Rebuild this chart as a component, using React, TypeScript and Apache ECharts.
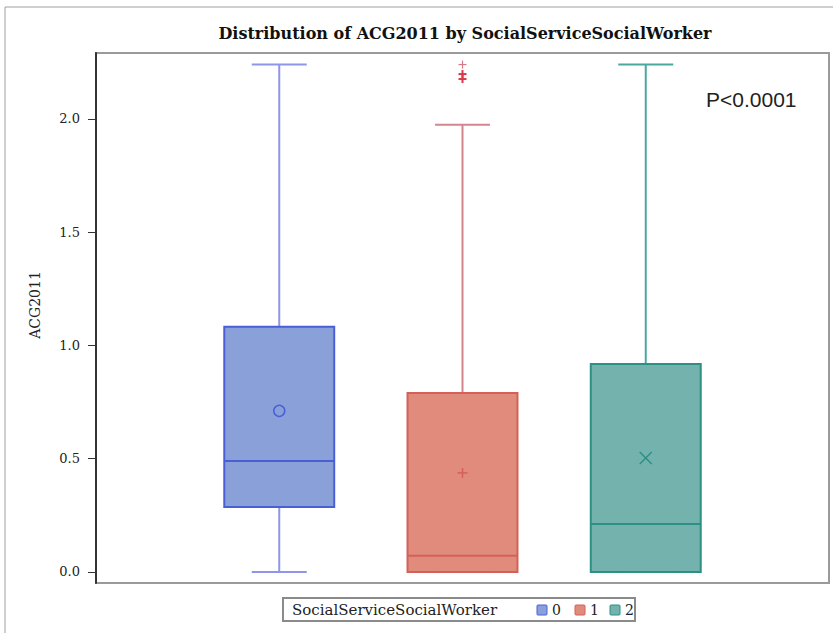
import React, { useEffect, useRef } from "react";
import * as echarts from "echarts";

// ---- data ----
const categories = ["0", "1", "2"];
const whiskerLow = [0, 0, 0];
const q1 = [0.287, 0, 0];
const median = [0.49, 0.071, 0.212];
const q3 = [1.082, 0.79, 0.918];
const whiskerHigh = [2.24, 1.974, 2.24];
const means = [0.711, 0.437, 0.503];
const outlierCategory = [1, 1, 1];
const outlierValues = [2.24, 2.198, 2.176];
const yTicks = [0, 0.5, 1, 1.5, 2];

const titleText = "Distribution of ACG2011 by SocialServiceSocialWorker";
const yName = "ACG2011";
const legendTitle = "SocialServiceSocialWorker";
const pText = "P<0.0001";

// ---- styles ----
const fills = ["#8aa0d8", "#e08b7b", "#73b2ad"];
const edges = ["#4a5fd6", "#d4605a", "#2c9084"];
const whiskers = ["#8f95ea", "#d4868e", "#4aa99e"];
const outlierColor = "#d8394b";
const meanSymbols = ["circle", "plus", "cross"];
const serif = "DejaVu Serif";

export default function App() {
  const ref = useRef<HTMLDivElement>(null);

  useEffect(() => {
    document.body.style.margin = "0";
    const chart = echarts.init(ref.current!, null, { renderer: "svg" });

    const boxData = categories.map((c, i) => [
      i + 1,
      whiskerLow[i],
      q1[i],
      median[i],
      q3[i],
      whiskerHigh[i],
      means[i],
      i,
    ]);
    const outlierData = outlierValues.map((v, i) => [outlierCategory[i] + 1, v, outlierCategory[i]]);

    const renderBox = (params: any, api: any) => {
      const x = api.value(0);
      const idx = api.value(7);
      const pLow = api.coord([x, api.value(1)]);
      const pQ1 = api.coord([x, api.value(2)]);
      const pMed = api.coord([x, api.value(3)]);
      const pQ3 = api.coord([x, api.value(4)]);
      const pHigh = api.coord([x, api.value(5)]);
      const pMean = api.coord([x, api.value(6)]);
      const bw = api.size([0.6, 0])[0];
      const hw = bw / 2;
      const cw = hw / 2;
      const cx = pMed[0];
      const fill = fills[idx];
      const edge = edges[idx];
      const wc = whiskers[idx];
      const children: any[] = [];
      children.push({
        type: "line",
        shape: { x1: cx, y1: pQ3[1], x2: cx, y2: pHigh[1] },
        style: { stroke: wc, lineWidth: 2 },
      });
      children.push({
        type: "line",
        shape: { x1: cx - cw, y1: pHigh[1], x2: cx + cw, y2: pHigh[1] },
        style: { stroke: wc, lineWidth: 2 },
      });
      children.push({
        type: "line",
        shape: { x1: cx, y1: pQ1[1], x2: cx, y2: pLow[1] },
        style: { stroke: wc, lineWidth: 2 },
      });
      children.push({
        type: "rect",
        shape: { x: cx - hw, y: pQ3[1], width: bw, height: pQ1[1] - pQ3[1] },
        style: { fill, stroke: edge, lineWidth: 2 },
      });
      children.push({
        type: "line",
        shape: { x1: cx - hw, y1: pMed[1], x2: cx + hw, y2: pMed[1] },
        style: { stroke: edge, lineWidth: 2 },
      });
      children.push({
        type: "line",
        shape: { x1: cx - cw, y1: pLow[1], x2: cx + cw, y2: pLow[1] },
        style: { stroke: pLow[1] === pQ1[1] ? edge : wc, lineWidth: 2 },
      });
      const sym = meanSymbols[idx];
      const mx = pMean[0];
      const my = pMean[1];
      if (sym === "circle") {
        children.push({
          type: "circle",
          shape: { cx: mx, cy: my, r: 5.5 },
          style: { fill: "none", stroke: edge, lineWidth: 1.5 },
        });
      } else if (sym === "plus") {
        children.push({ type: "line", shape: { x1: mx - 5, y1: my, x2: mx + 5, y2: my }, style: { stroke: edge, lineWidth: 1.5 } });
        children.push({ type: "line", shape: { x1: mx, y1: my - 5, x2: mx, y2: my + 5 }, style: { stroke: edge, lineWidth: 1.5 } });
      } else {
        children.push({ type: "line", shape: { x1: mx - 6, y1: my - 6, x2: mx + 6, y2: my + 6 }, style: { stroke: edge, lineWidth: 1.5 } });
        children.push({ type: "line", shape: { x1: mx - 6, y1: my + 6, x2: mx + 6, y2: my - 6 }, style: { stroke: edge, lineWidth: 1.5 } });
      }
      return { type: "group", children };
    };

    const renderOutlier = (params: any, api: any) => {
      const p = api.coord([api.value(0), api.value(1)]);
      const first = params.dataIndex === 0;
      const c = first ? "#d87a86" : outlierColor;
      const lw = first ? 1.2 : 2;
      return {
        type: "group",
        children: [
          { type: "line", shape: { x1: p[0] - 4, y1: p[1], x2: p[0] + 4, y2: p[1] }, style: { stroke: c, lineWidth: lw } },
          { type: "line", shape: { x1: p[0], y1: p[1] - 4, x2: p[0], y2: p[1] + 4 }, style: { stroke: c, lineWidth: lw } },
        ],
      };
    };

    const legendX = 283;
    const legendY = 598;
    const swatchX = [537, 575, 610];

    const legendGraphics: any[] = [
      {
        type: "rect",
        shape: { x: legendX, y: legendY, width: 352, height: 23 },
        style: { fill: "#fff", stroke: "#8a8a8a", lineWidth: 2 },
      },
      {
        type: "text",
        x: legendX + 9,
        y: legendY + 12,
        style: { text: legendTitle, font: `15px '${serif}'`, fill: "#222", textVerticalAlign: "middle" },
      },
    ];
    categories.forEach((c, i) => {
      legendGraphics.push({
        type: "rect",
        shape: { x: swatchX[i], y: legendY + 7, width: 10, height: 10, r: 1 },
        style: { fill: fills[i], stroke: edges[i], lineWidth: 1 },
      });
      legendGraphics.push({
        type: "text",
        x: swatchX[i] + 15,
        y: legendY + 12,
        style: { text: c, font: `14px '${serif}'`, fill: "#222", textVerticalAlign: "middle" },
      });
    });

    chart.setOption({
      animation: false,
      backgroundColor: "#fff",
      grid: {
        left: 96,
        top: 53,
        right: 4,
        bottom: 50,
        show: true,
        borderColor: "#9a9a9a",
        borderWidth: 2,
      },
      xAxis: {
        type: "value",
        min: 0,
        max: 4,
        show: false,
      },
      yAxis: {
        type: "value",
        min: -0.049,
        max: 2.291,
        axisLine: { show: true, lineStyle: { color: "#333", width: 2 } },
        axisTick: { show: true, length: 8, customValues: yTicks, lineStyle: { color: "#333" } },
        axisLabel: {
          customValues: yTicks,
          formatter: (v: number) => v.toFixed(1),
          fontFamily: serif,
          fontSize: 13,
          color: "#222",
          margin: 16,
        },
        splitLine: { show: false },
      },
      graphic: [
        {
          type: "rect",
          shape: { x: 5, y: 7, width: 1000, height: 1000 },
          style: { fill: "none", stroke: "#a0a0a0", lineWidth: 1 },
          z: 100,
        },
        {
          type: "text",
          x: 465,
          y: 33,
          style: {
            text: titleText,
            font: `bold 16px '${serif}'`,
            fill: "#111",
            textAlign: "center",
            textVerticalAlign: "middle",
          },
        },
        {
          type: "text",
          x: 35,
          y: 305,
          rotation: Math.PI / 2,
          style: {
            text: yName,
            font: `14px '${serif}'`,
            fill: "#222",
            textAlign: "center",
            textVerticalAlign: "middle",
          },
        },
        {
          type: "text",
          x: 706,
          y: 99,
          style: {
            text: pText,
            font: "21px 'Liberation Sans'",
            fill: "#222",
            textVerticalAlign: "middle",
          },
        },
        ...legendGraphics,
      ],
      series: [
        {
          type: "custom",
          name: "box",
          renderItem: renderBox,
          data: boxData,
          encode: { x: 0, y: [1, 2, 3, 4, 5, 6] },
          clip: false,
        },
        {
          type: "custom",
          name: "outliers",
          renderItem: renderOutlier,
          data: outlierData,
          encode: { x: 0, y: 1 },
        },
      ],
    });

    return () => {
      chart.dispose();
    };
  }, []);

  return <div ref={ref} style={{ width: 833, height: 633 }} />;
}
